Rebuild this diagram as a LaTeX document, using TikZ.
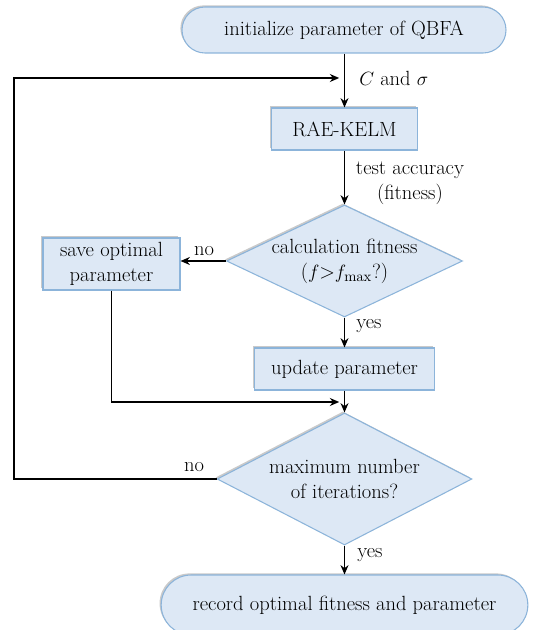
\documentclass[tikz,border=0pt]{standalone}
\usepackage{amsmath}
\usetikzlibrary{shapes.geometric,shapes.misc,arrows.meta,shadows}

\definecolor{boxfill}{RGB}{221,232,245}
\definecolor{boxline}{RGB}{140,180,218}

\begin{document}
\begin{tikzpicture}[x=0.75pt,y=0.75pt,yscale=-1,xscale=1,
  font=\fontsize{15.4}{18.75}\selectfont,
  blk/.style={draw=boxline,fill=boxfill,line width=0.8pt,
    drop shadow={shadow xshift=-1.2pt,shadow yshift=1.2pt,fill=black!35,opacity=0.6}},
  term/.style={blk,rounded rectangle,minimum height=34.5pt,inner sep=0pt},
  proc/.style={blk,rectangle,inner sep=0pt,align=center},
  decision/.style={blk,diamond,inner sep=0pt},
  arr/.style={draw=black,line width=0.9pt,-{Stealth[length=7pt,width=6pt]}},
  lbl/.style={inner sep=0.75pt,align=center}]
%set diagram size
\useasboundingbox (0,0) rectangle (532,630);

%Shape: Terminal
\node[term,minimum width=243pt] (init) at (344,30) {initialize parameter of QBFA};
%Shape: Process
\node[proc,minimum width=110pt,minimum height=31.5pt] (kelm) at (344.5,129) {RAE-KELM};
%Shape: Decision
\node[decision,minimum width=177pt,minimum height=84pt] (calc) at (344.5,261) {};
\node[lbl] (calctxt) at (calc.center) {calculation fitness\\($f$>$f_{\max}$?)};
%Shape: Process
\node[proc,minimum width=102.75pt,minimum height=39pt] (save) at (111.5,264) {save optimal\\parameter};
%Shape: Process
\node[proc,minimum width=135pt,minimum height=31.5pt] (update) at (344.5,369) {update parameter};
%Shape: Decision
\node[decision,minimum width=191pt,minimum height=99pt] (iter) at (344.5,479) {};
\node[lbl] (itertxt) at (iter.center) {maximum number\\of iterations?};
%Shape: Terminal
\node[term,minimum width=275pt,minimum height=45pt] (rec) at (344.5,605) {record optimal fitness and parameter};

%Joints on the main line
\coordinate (loopin) at (kelm.north |- 0,78);
\coordinate (merge) at (update.south |- 0,402);
\coordinate (edge) at (14,300);

%Straight Lines
\draw[arr] (init.south -| kelm.north) -- (kelm.north);
\draw[arr] (kelm.south) -- (calc.north);
\draw[arr] (calc.west) -- (calc.west -| save.east);
\draw[arr] (calc.south) -- (update.north);
\draw[arr] (update.south) -- (iter.north);
\draw[arr,shorten >=4pt] (save.south) |- (merge);
\draw[arr,shorten >=4pt] (iter.west) -| (edge) |- (loopin);
\draw[arr] (iter.south) -- (rec.north);

% Text Node
\node[lbl,anchor=west] (param) at (358,78) {$C$ and $\sigma$};
% Text Node
\node[lbl] (acc) at (410,183) {test accuracy\\(fitness)};
% Text Node
\node[lbl] (no1) at (204,251) {no};
% Text Node
\node[lbl] (yes1) at (369,326) {yes};
% Text Node
\node[lbl] (no2) at (194,467) {no};
% Text Node
\node[lbl] (yes2) at (370,555) {yes};

\end{tikzpicture}
\end{document}
